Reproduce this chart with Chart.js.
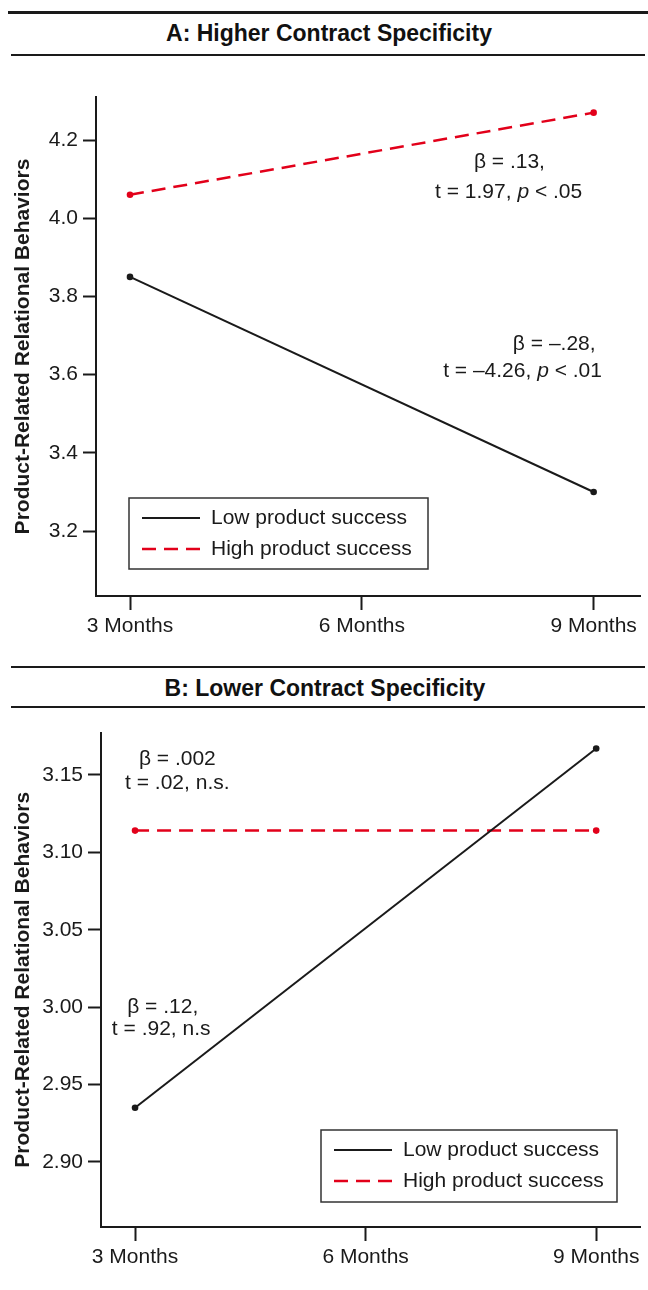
<!DOCTYPE html>
<html>
<head>
<meta charset="utf-8">
<script src="https://cdn.jsdelivr.net/npm/chart.js@4.4.0/dist/chart.umd.min.js"></script>
<style>
  body { margin: 0; background: #fff; width: 648px; height: 1290px; position: relative; overflow: hidden;
         font-family: 'Liberation Sans', Arial, sans-serif; }
  .rule { position: absolute; background: #1a1a1a; }
  .title { position: absolute; left: 0; width: 648px; text-align: center; font-weight: bold;
           font-size: 23px; line-height: 26px; color: #111; }
  canvas { position: absolute; left: 0; }
</style>
</head>
<body>
<div class="rule" style="left:8px;top:11px;width:640px;height:3px"></div>
<div class="title" style="top:20px;left:5px">A: Higher Contract Specificity</div>
<div class="rule" style="left:11px;top:54px;width:634px;height:2px"></div>
<canvas id="chartA" width="648" height="600" style="top:60px"></canvas>

<div class="rule" style="left:11px;top:666px;width:634px;height:2px"></div>
<div class="title" style="top:675px;left:1px">B: Lower Contract Specificity</div>
<div class="rule" style="left:11px;top:706px;width:634px;height:2px"></div>
<canvas id="chartB" width="648" height="575" style="top:715px"></canvas>

<script>
// values
const months = [3, 6, 9];
const monthLabels = ['3 Months', '6 Months', '9 Months'];
const seriesNames = ['Low product success', 'High product success'];
const pointMonths = [3, 9];

const lowA = [3.85, 3.30];
const highA = [4.06, 4.27];
const yTicksA = [3.2, 3.4, 3.6, 3.8, 4.0, 4.2];

const lowB = [2.935, 3.167];
const highB = [3.114, 3.114];
const yTicksB = [2.90, 2.95, 3.00, 3.05, 3.10, 3.15];

// annotation text, anchored in data units; _x_ = italic
const notesA = [
  { x: 7.91, y: 4.144, text: 'β = .13,' },
  { x: 7.90, y: 4.067, text: 't = 1.97, _p_ < .05' },
  { x: 8.49, y: 3.678, text: 'β = –.28,' },
  { x: 8.08, y: 3.609, text: 't = –4.26, _p_ < .01' }
];
const notesB = [
  { x: 3.55, y: 3.1602, text: 'β = .002' },
  { x: 3.55, y: 3.1446, text: 't = .02, n.s.' },
  { x: 3.36, y: 2.9997, text: 'β = .12,' },
  { x: 3.34, y: 2.9856, text: 't = .92, n.s' }
];

const family = "'Liberation Sans', Arial, sans-serif";
const ink = '#1a1a1a';
const red = '#e2001a';

const notesPlugin = {
  id: 'notes',
  afterDatasetsDraw(chart, args, opts) {
    const ctx = chart.ctx, xs = chart.scales.x, ys = chart.scales.y;
    ctx.save();
    ctx.fillStyle = ink;
    ctx.textBaseline = 'middle';
    ctx.textAlign = 'left';
    opts.items.forEach(n => {
      const parts = n.text.split('_');
      const fonts = parts.map((p, i) => (i % 2 ? 'italic ' : '') + '21px ' + family);
      let w = 0;
      parts.forEach((p, i) => { ctx.font = fonts[i]; w += ctx.measureText(p).width; });
      let x = xs.getPixelForValue(n.x) - w / 2;
      const y = ys.getPixelForValue(n.y);
      parts.forEach((p, i) => {
        ctx.font = fonts[i];
        ctx.fillText(p, x, y);
        x += ctx.measureText(p).width;
      });
    });
    ctx.restore();
  }
};

const boxLegend = {
  id: 'boxLegend',
  afterDraw(chart, args, opts) {
    const ctx = chart.ctx, a = chart.chartArea;
    const left = a.left + opts.dx, top = a.bottom - opts.dy;
    ctx.save();
    ctx.fillStyle = '#fff';
    ctx.fillRect(left, top, opts.w, opts.h);
    ctx.strokeStyle = '#333';
    ctx.lineWidth = 1.5;
    ctx.strokeRect(left, top, opts.w, opts.h);
    chart.data.datasets.forEach((ds, i) => {
      const y = top + 20 + i * 31;
      ctx.beginPath();
      ctx.strokeStyle = ds.borderColor;
      ctx.lineWidth = ds.borderWidth;
      ctx.setLineDash(ds.borderDash || []);
      ctx.moveTo(left + 13, y);
      ctx.lineTo(left + 71, y);
      ctx.stroke();
      ctx.setLineDash([]);
      ctx.fillStyle = ink;
      ctx.font = '21px ' + family;
      ctx.textBaseline = 'middle';
      ctx.fillText(ds.label, left + 82, y);
    });
    ctx.restore();
  }
};

function buildChart(id, low, high, yMin, yMax, yTicks, digits, xMin, xMax, frame, notes, legendAt) {
  const font = { family: family, size: 21 };
  return new Chart(document.getElementById(id), {
    type: 'line',
    data: {
      datasets: [
        {
          label: seriesNames[0],
          data: pointMonths.map((m, i) => ({ x: m, y: low[i] })),
          borderColor: ink, backgroundColor: ink, borderWidth: 2,
          pointRadius: 3.3, pointBorderWidth: 0, pointBackgroundColor: ink
        },
        {
          label: seriesNames[1],
          data: pointMonths.map((m, i) => ({ x: m, y: high[i] })),
          borderColor: red, backgroundColor: red, borderWidth: 2.5, borderDash: [14, 8],
          pointRadius: 3.3, pointBorderWidth: 0, pointBackgroundColor: red
        }
      ]
    },
    options: {
      responsive: false,
      animation: false,
      devicePixelRatio: 1,
      layout: { padding: { top: frame.top, right: 8, left: 0, bottom: 0 } },
      plugins: {
        legend: { display: false },
        tooltip: { enabled: false },
        notes: { items: notes },
        boxLegend: legendAt
      },
      scales: {
        x: {
          type: 'linear', min: xMin, max: xMax,
          afterBuildTicks: s => { s.ticks = months.map(v => ({ value: v })); },
          afterFit: s => { s.height = frame.bottom; },
          ticks: { callback: v => monthLabels[months.indexOf(v)], font: font, color: ink, padding: 4, maxRotation: 0, autoSkip: false },
          grid: { drawOnChartArea: false, tickLength: 14, tickColor: ink, tickWidth: 2 },
          border: { color: ink, width: 2 }
        },
        y: {
          min: yMin, max: yMax,
          afterBuildTicks: s => { s.ticks = yTicks.map(v => ({ value: v })); },
          afterFit: s => { s.width = frame.left; },
          ticks: { callback: v => v.toFixed(digits), font: font, color: ink, padding: 5, autoSkip: false },
          grid: { drawOnChartArea: false, tickLength: 13, tickColor: ink, tickWidth: 2 },
          border: { color: ink, width: 2 },
          title: {
            display: true, text: 'Product-Related Relational Behaviors', color: ink,
            font: { family: family, size: 21, weight: 'bold' }, padding: { top: 11, bottom: 0 }
          }
        }
      }
    },
    plugins: [notesPlugin, boxLegend]
  });
}

buildChart('chartA', lowA, highA, 3.034, 4.31, yTicksA, 1, 2.56, 9.6,
  { top: 37, left: 96, bottom: 64 }, notesA, { dx: 33, dy: 98, w: 299, h: 71 });
buildChart('chartB', lowB, highB, 2.858, 3.1773, yTicksB, 2, 2.557, 9.57,
  { top: 14, left: 101, bottom: 63 }, notesB, { dx: 220, dy: 97, w: 296, h: 72 });
</script>
</body>
</html>
